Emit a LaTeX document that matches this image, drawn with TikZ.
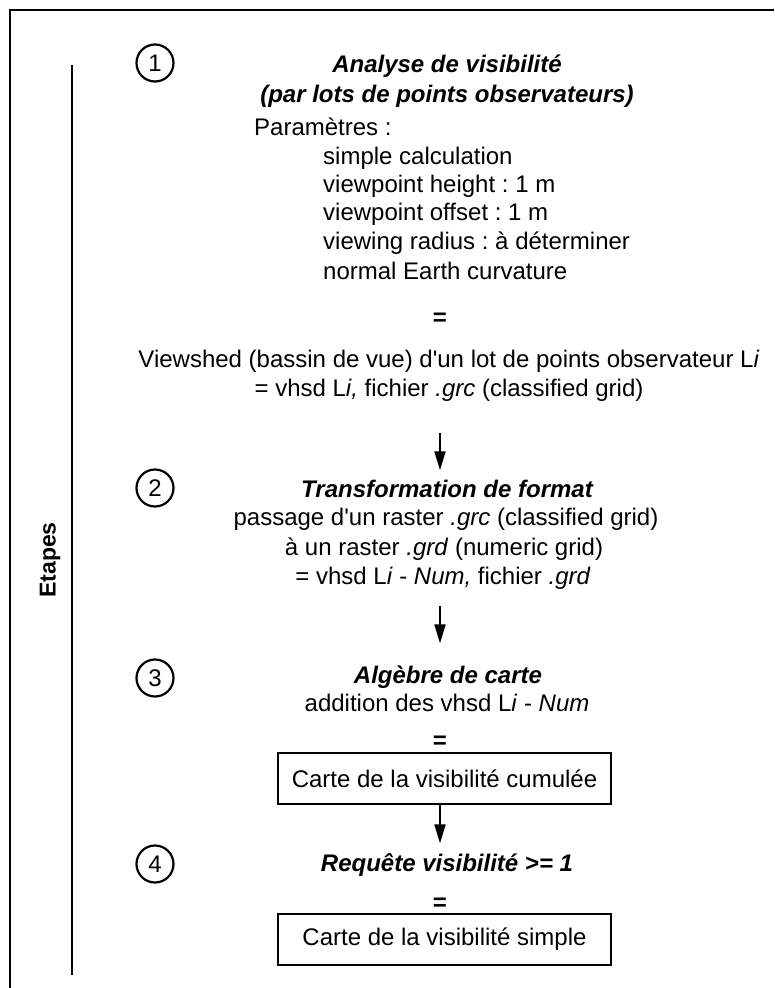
\documentclass[tikz,border=0pt]{standalone}
\usepackage{fontspec}
\setmainfont{Liberation Sans}[Ligatures=TeXOff]
\usepackage{tikz}
\usetikzlibrary{arrows.meta}
\frenchspacing

\tikzset{
  ligne/.style={inner sep=0pt,text height=18pt,text depth=5pt,font=\fontsize{24}{28}\selectfont},
  titre/.style={ligne,font=\fontsize{24}{28}\selectfont\bfseries\itshape},
  egal/.style={ligne,font=\fontsize{24}{28}\selectfont\bfseries},
  numero/.style={circle,draw,line width=2.2pt,minimum size=37pt,inner sep=0pt,font=\fontsize{24}{28}\selectfont},
  carte/.style={draw,line width=2pt,minimum width=333pt,minimum height=51pt,inner sep=0pt,font=\fontsize{24}{28}\selectfont}
}

\begin{document}
\begin{tikzpicture}[x=1pt,y=-1pt,>={Triangle[length=19pt,width=11pt]}]
\useasboundingbox (0,0) rectangle (774,988);
\draw[line width=2pt] (10,988) -- (10,10) -- (774,10);
\draw[line width=2pt] (72,65) -- (72,975);
\node[rotate=90,font=\fontsize{23}{27}\selectfont\bfseries] (etapes) at (50,560) {Etapes};

\node[numero] (n1) at (155,63) {1};
\node[titre] (t1) at (447,66) {Analyse de visibilité};
\node[titre] (t1b) at (447,96) {(par lots de points observateurs)};
\node[ligne,anchor=west] (par) at (254,129) {Paramètres :};
\node[ligne,anchor=west] (p1) at (323,158) {simple calculation};
\node[ligne,anchor=west] (p2) at (323,186) {viewpoint height : 1 m};
\node[ligne,anchor=west] (p3) at (323,214) {viewpoint offset : 1 m};
\node[ligne,anchor=west] (p4) at (323,243) {viewing radius : à déterminer};
\node[ligne,anchor=west] (p5) at (323,273) {normal Earth curvature};
\node[egal] (e1) at (440,319) {=};
\node[ligne] (vshd) at (449,361) {Viewshed (bassin de vue) d'un lot de points observateur L\textit{i}};
\node[ligne] (grid) at (449,390) {= vhsd L\textit{i,} fichier \textit{.grc} (classified grid)};

\node[numero] (n2) at (155,488) {2};
\node[titre] (t2) at (447,491) {Transformation de format};
\node[ligne] (pass) at (446,519) {passage d'un raster \textit{.grc} (classified grid)};
\node[ligne] (rast) at (444,549) {à un raster \textit{.grd} (numeric grid)};
\node[ligne] (num) at (443,578) {= vhsd L\textit{i} - \textit{Num,} fichier \textit{.grd}};

\node[numero] (n3) at (155,678) {3};
\node[titre] (t3) at (448,677) {Algèbre de carte};
\node[ligne] (add) at (447,705) {addition des vhsd L\textit{i} - \textit{Num}};
\node[egal] (e2) at (440,742) {=};
\node[carte] (cumul) at (444.5,778.5) {Carte de la visibilité cumulée};

\node[numero] (n4) at (155,864) {4};
\node[titre] (t4) at (447,865) {Requête visibilité >= 1};
\node[egal] (e3) at (440,904) {=};
\node[carte] (simple) at (444.5,939.5) {Carte de la visibilité simple};

\draw[->,line width=2pt,shorten <=31pt,shorten >=9pt] (grid.south -| e1) -- (t2.north -| e1);
\draw[->,line width=2pt,shorten <=16pt,shorten >=22pt] (num.south -| e1) -- (t3.north -| e1);
\draw[->,line width=2pt,shorten >=10pt] (cumul.south -| e2) -- (t4.north -| e2);
\end{tikzpicture}
\end{document}
